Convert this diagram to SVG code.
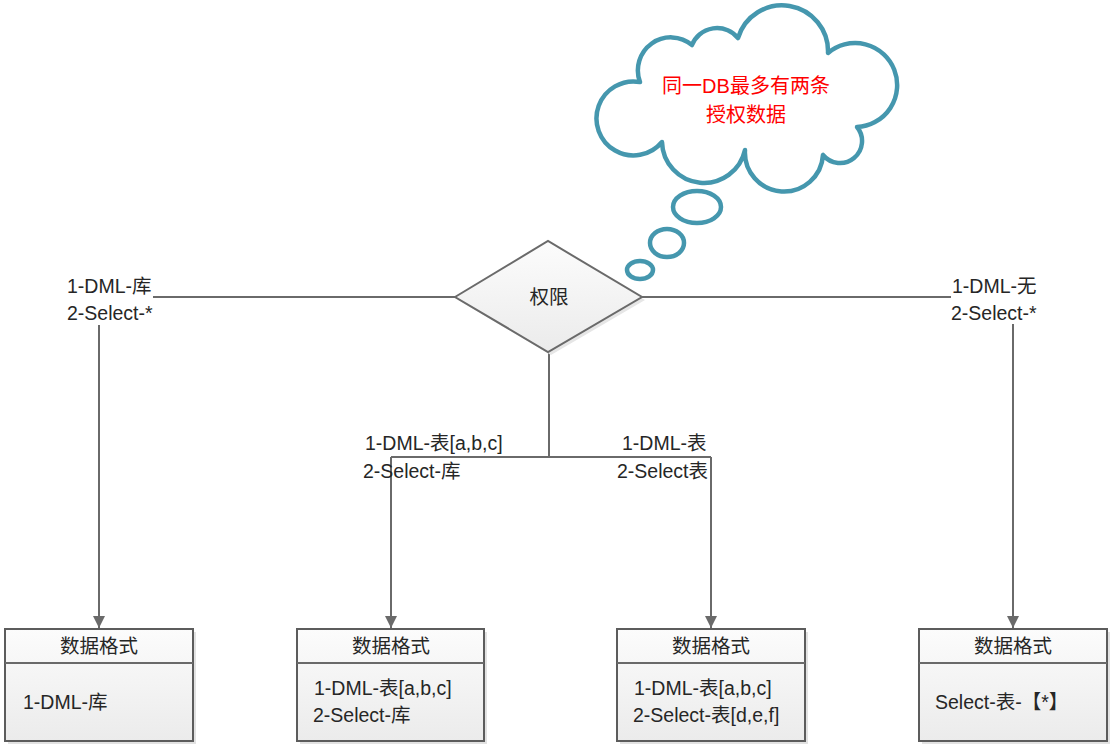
<svg xmlns="http://www.w3.org/2000/svg" width="1112" height="746" viewBox="0 0 1112 746">
<style>
text{font-family:"Liberation Sans","Noto Sans CJK SC",sans-serif;font-size:19.5px;fill:#262626}
.c{text-anchor:middle}
.ln{stroke:#6a6a6a;stroke-width:2;fill:none}
.box{fill:url(#g);stroke:#5c5c5c;stroke-width:2}
.sh{fill:#e2e2e2}
.cloud{fill:#fff;stroke:#4597ae;stroke-width:4.5;stroke-linejoin:round}
.red{fill:#ff0000;font-size:20px}
</style>
<defs>
<linearGradient id="g" x1="0" y1="0" x2="0" y2="1">
<stop offset="0" stop-color="#fcfcfc"/>
<stop offset="1" stop-color="#ebebeb"/>
</linearGradient>
<marker id="ar" viewBox="0 0 12 12" refX="12" refY="6" markerWidth="12" markerHeight="12" markerUnits="userSpaceOnUse" orient="auto">
<path d="M0,0 L12,6 L0,12 z" fill="#6a6a6a"/>
</marker>
</defs>
<rect width="1112" height="746" fill="#fff"/>

<g id="connectors">
<path class="ln" d="M153,297 H455"/>
<path class="ln" d="M99,325 V628" marker-end="url(#ar)"/>
<path class="ln" d="M642,297 H951"/>
<path class="ln" d="M1013,324 V628" marker-end="url(#ar)"/>
<path class="ln" d="M549,352 V457"/>
<path class="ln" d="M391,457 H711"/>
<path class="ln" d="M391,457 V628" marker-end="url(#ar)"/>
<path class="ln" d="M711,457 V628" marker-end="url(#ar)"/>
<text x="67" y="293">1-DML-库</text>
<text x="67" y="320">2-Select-*</text>
<text x="952" y="293">1-DML-无</text>
<text x="951" y="320">2-Select-*</text>
<text x="365" y="450">1-DML-表[a,b,c]</text>
<text x="363" y="478">2-Select-库</text>
<text x="622" y="450">1-DML-表</text>
<text x="617" y="478">2-Select表</text>
</g>

<g id="cloud">
<path class="cloud" d="M640,82 A33,33 0 0 1 692,45 A27,27 0 0 1 738,38 A46,46 0 0 1 828,53 A42,42 0 1 1 857,127 A22,22 0 1 1 823,155 A39,39 0 0 1 745,150 A42,42 0 0 1 662,142 A37,37 0 1 1 640,82 Z"/>
<ellipse class="cloud" cx="697" cy="207" rx="24" ry="16"/>
<ellipse class="cloud" cx="667" cy="243" rx="17" ry="14"/>
<ellipse class="cloud" cx="640" cy="270" rx="13" ry="9"/>
<text class="c red" x="746" y="93">同一DB最多有两条</text>
<text class="c red" x="746" y="122">授权数据</text>
</g>

<g id="diamond">
<polygon points="458,300 551,244 645,300 551,355" fill="#e6e6e6"/>
<polygon points="455,297 548,241 642,297 548,352" fill="url(#g)" stroke="#6a6a6a" stroke-width="2"/>
<text class="c" x="549" y="304">权限</text>
</g>

<g id="box1">
<rect class="sh" x="8" y="632" width="188" height="112"/>
<rect class="box" x="5" y="629" width="188" height="112"/>
<line class="ln" x1="5" y1="663" x2="193" y2="663" stroke="#5c5c5c"/>
<text class="c" x="99" y="653">数据格式</text>
<text x="23" y="709">1-DML-库</text>
</g>

<g id="box2">
<rect class="sh" x="300" y="632" width="187" height="112"/>
<rect class="box" x="297" y="629" width="187" height="112"/>
<line class="ln" x1="297" y1="663" x2="484" y2="663" stroke="#5c5c5c"/>
<text class="c" x="391" y="653">数据格式</text>
<text x="314" y="695">1-DML-表[a,b,c]</text>
<text x="313" y="722">2-Select-库</text>
</g>

<g id="box3">
<rect class="sh" x="620" y="632" width="188" height="112"/>
<rect class="box" x="617" y="629" width="188" height="112"/>
<line class="ln" x1="617" y1="663" x2="805" y2="663" stroke="#5c5c5c"/>
<text class="c" x="711" y="653">数据格式</text>
<text x="634" y="695">1-DML-表[a,b,c]</text>
<text x="633" y="722">2-Select-表[d,e,f]</text>
</g>

<g id="box4">
<rect class="sh" x="922" y="632" width="188" height="112"/>
<rect class="box" x="919" y="629" width="188" height="112"/>
<line class="ln" x1="919" y1="663" x2="1107" y2="663" stroke="#5c5c5c"/>
<text class="c" x="1013" y="653">数据格式</text>
<text x="935" y="709">Select-表-【*】</text>
</g>
</svg>
